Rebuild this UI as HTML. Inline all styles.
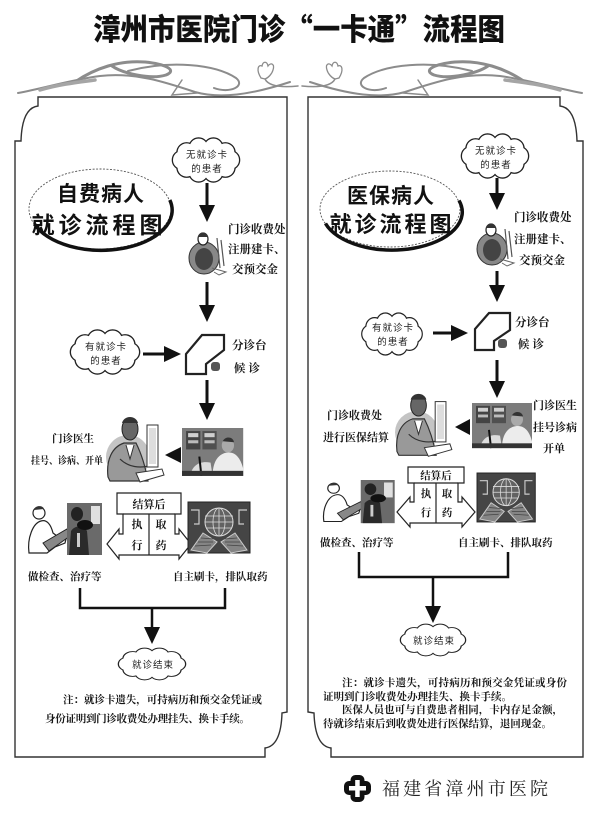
<!DOCTYPE html>
<html><head><meta charset="utf-8">
<style>
html,body{margin:0;padding:0;background:#fff;}
body{width:600px;height:813px;overflow:hidden;}
svg{display:block;}
.t{font-family:"Liberation Serif","Noto Serif CJK SC","Noto Sans CJK SC",serif;font-weight:bold;fill:#151515;}
.c{font-family:"Liberation Sans","Noto Sans CJK SC",sans-serif;font-size:9.5px;fill:#222;letter-spacing:1px;}
.h{font-family:"Noto Sans CJK SC","Liberation Sans",sans-serif;font-weight:700;fill:#111;}
</style></head>
<body>
<svg width="600" height="813" viewBox="0 0 600 813" xmlns="http://www.w3.org/2000/svg">
<defs>
 <g id="cloud">
  <g fill="none" stroke="#222" stroke-width="2.6">
   <circle cx="24" cy="0" r="9"/><circle cx="19.4" cy="7.6" r="9"/><circle cx="7.4" cy="12.4" r="9"/>
   <circle cx="-7.4" cy="12.4" r="9"/><circle cx="-19.4" cy="7.6" r="9"/><circle cx="-24" cy="0" r="9"/>
   <circle cx="-19.4" cy="-7.6" r="9"/><circle cx="-7.4" cy="-12.4" r="9"/><circle cx="7.4" cy="-12.4" r="9"/>
   <circle cx="19.4" cy="-7.6" r="9"/>
  </g>
  <g fill="#fff" stroke="none">
   <circle cx="24" cy="0" r="9"/><circle cx="19.4" cy="7.6" r="9"/><circle cx="7.4" cy="12.4" r="9"/>
   <circle cx="-7.4" cy="12.4" r="9"/><circle cx="-19.4" cy="7.6" r="9"/><circle cx="-24" cy="0" r="9"/>
   <circle cx="-19.4" cy="-7.6" r="9"/><circle cx="-7.4" cy="-12.4" r="9"/><circle cx="7.4" cy="-12.4" r="9"/>
   <circle cx="19.4" cy="-7.6" r="9"/>
   <ellipse cx="0" cy="0" rx="25" ry="14"/>
  </g>
 </g>
 <g id="cash">
  <ellipse cx="18" cy="30" rx="15" ry="16" fill="#888" stroke="#333" stroke-width="1"/>
  <ellipse cx="18" cy="31" rx="9" ry="11" fill="#444"/>
  <ellipse cx="17" cy="11" rx="5" ry="6" fill="#fff" stroke="#222" stroke-width="1.2"/>
  <path d="M12,9 C13,3 21,3 22,9" fill="#333"/>
  <path d="M31,10 L34,40 M35,12 L38,38" stroke="#555" stroke-width="1.2" fill="none"/>
  <path d="M26,40 L40,44 L33,47 L28,44" stroke="#666" fill="none"/>
 </g>
 <g id="doc">
  <ellipse cx="22" cy="42" rx="22" ry="22" fill="#c4c4c4"/>
  <path d="M2,62 C0,45 6,32 18,28 L30,28 C36,40 40,55 42,66 L4,66 Z" fill="#999" stroke="#333" stroke-width="1.2"/>
  <path d="M20,30 L24,44 L28,30" fill="#fff" stroke="#333"/>
  <ellipse cx="24" cy="14" rx="8" ry="11" fill="#666" stroke="#222"/>
  <path d="M16,8 C18,0 30,0 32,8" fill="#333"/>
  <path d="M14,44 C22,52 34,54 46,50" stroke="#333" stroke-width="1.2" fill="none"/>
  <rect x="41" y="10" width="11" height="42" fill="#fff" stroke="#333"/>
  <rect x="43" y="13" width="7" height="36" fill="#ddd"/>
  <path d="M30,58 L56,54 L58,60 L34,67 Z" fill="#fff" stroke="#333"/>
 </g>
 <g id="photo">
  <rect width="60" height="47" fill="#7c7c7c"/>
  <rect x="4" y="3" width="14" height="18" fill="#444"/><rect x="20" y="3" width="14" height="18" fill="#505050"/>
  <rect x="6" y="5" width="10" height="4" fill="#d0d0d0"/><rect x="6" y="12" width="10" height="3" fill="#bbb"/>
  <rect x="22" y="5" width="10" height="4" fill="#d0d0d0"/><rect x="22" y="12" width="10" height="3" fill="#bbb"/>
  <path d="M30,47 C30,30 38,24 46,24 C54,24 58,32 60,40 L60,47 Z" fill="#ececec"/>
  <ellipse cx="45" cy="17" rx="6" ry="7" fill="#aaa"/>
  <path d="M40,13 C42,8 50,8 51,14" fill="#333"/>
  <path d="M8,47 C10,36 18,32 28,34 L30,47 Z" fill="#ddd"/>
  <path d="M17,28 L19,47" stroke="#111" stroke-width="2"/>
  <rect x="0" y="42" width="60" height="5" fill="#333"/>
 </g>
 <g id="exam">
  <circle cx="14" cy="10" r="6" fill="#fff" stroke="#222" stroke-width="1.2"/>
  <path d="M9,7 C10,2 18,2 19,6" fill="#333"/>
  <path d="M4,50 C2,35 8,20 16,18 C22,16 26,22 28,30 L36,36 L42,32 L40,40 L30,44 L22,50 Z" fill="#fff" stroke="#222" stroke-width="1.2"/>
  <path d="M18,40 L42,26 L45,33 L24,48 Z" fill="#888" stroke="#222"/>
  <rect x="42" y="0" width="35" height="52" fill="#6a6a6a"/>
  <rect x="66" y="3" width="9" height="18" fill="#e0e0e0"/>
  <path d="M44,52 L46,28 C50,22 58,22 62,28 L64,52 Z" fill="#2a2a2a"/>
  <ellipse cx="52" cy="11" rx="6" ry="7" fill="#222"/>
  <ellipse cx="60" cy="22" rx="8" ry="5" fill="#111"/>
  <rect x="52" y="30" width="3" height="14" fill="#ccc"/>
 </g>
 <g id="globe">
  <rect width="62" height="51" fill="#454545" stroke="#222"/>
  <circle cx="31" cy="20" r="14" fill="#626262" stroke="#ddd" stroke-width="1"/>
  <ellipse cx="31" cy="20" rx="6" ry="14" fill="none" stroke="#ddd" stroke-width="0.8"/>
  <path d="M17,14 H45 M17,20 H45 M18,26 H44 M31,6 V34" stroke="#ddd" stroke-width="0.8"/>
  <path d="M3,8 H11 V22 H6 M59,8 H51 V22 H56" fill="none" stroke="#ccc" stroke-width="1.2"/>
  <path d="M3,48 L15,31 L29,40 L19,51 Z" fill="#858585" stroke="#ccc"/>
  <path d="M59,48 L47,31 L33,40 L43,51 Z" fill="#858585" stroke="#ccc"/>
  <path d="M7,44 L23,43 M10,40 L25,40 M13,36 L26,37 M55,44 L39,43 M52,40 L37,40 M49,36 L36,37" stroke="#444" stroke-width="0.8"/>
 </g>
 <g id="orn" fill="none" stroke="#8c8c8c" stroke-linecap="round">
  <path d="M18,93 C45,88 70,80 100,76 C135,72 165,82 195,92 C220,99 250,95 290,82" stroke-width="2"/>
  <path d="M75,82 C95,68 120,60 145,62 C165,64 178,70 166,75 C150,80 122,73 112,66" stroke-width="3"/>
  <path d="M128,71 C170,60 215,64 236,78 C246,86 230,94 214,88" stroke-width="2"/>
  <path d="M182,80 L172,95 L197,93" stroke-width="1.5"/>
  <path d="M40,90 C60,84 80,82 95,80" stroke-width="3.5" stroke="#a5a5a5"/>
  <path d="M261,78 C256,70 258,64 262,66 C263,61 267,61 268,66 C271,62 275,64 273,70 C272,74 268,78 265,79 Z" stroke-width="1.3"/>
  <path d="M265,79 C268,85 278,88 298,86" stroke-width="1.5"/>
 </g>
</defs>

<!-- Title -->
<text x="299" y="40" text-anchor="middle" textLength="412" lengthAdjust="spacingAndGlyphs" style="font-family:'Noto Sans CJK SC','WenQuanYi Zen Hei',sans-serif;font-weight:900;font-size:30px;fill:#111;">漳州市医院门诊“一卡通”流程图</text>

<!-- Ornament -->
<use href="#orn"/>
<g transform="translate(600,0) scale(-1,1)"><use href="#orn"/></g>

<!-- Panels -->
<path d="M38,97 L287,97 L287,712 L282,713 Q281,746 265,748 L265,757 L15,757 L15,141 L21,141 Q22,108 38,106 Z" fill="none" stroke="#333" stroke-width="1.4"/>
<path d="M560,97 L308,97 L308,712 L314,713 Q315,746 331,748 L331,757 L583,757 L583,141 L577,141 Q576,108 560,106 Z" fill="none" stroke="#333" stroke-width="1.4"/>

<!-- ============ LEFT PANEL ============ -->
<ellipse cx="100" cy="209" rx="71" ry="40" fill="none" stroke="#555" stroke-width="0.9" stroke-dasharray="2 1.5"/>
<path d="M34.5,224 A71,40 0 0 0 169.8,200" fill="none" stroke="#111" stroke-width="3.5"/>
<text class="h" x="101" y="201" text-anchor="middle" font-size="21" letter-spacing="1">自费病人</text>
<text class="h" x="99" y="233" text-anchor="middle" font-size="23" letter-spacing="4">就诊流程图</text>

<use href="#cloud" transform="translate(206,160)"/>
<text class="c" x="207" y="158" text-anchor="middle">无就诊卡</text>
<text class="c" x="207" y="172" text-anchor="middle">的患者</text>

<g stroke="#111" stroke-width="3">
 <line x1="207" y1="183" x2="207" y2="208"/>
 <line x1="207" y1="282" x2="207" y2="308"/>
 <line x1="143" y1="354" x2="166" y2="354"/>
 <line x1="207" y1="380" x2="207" y2="406"/>
 <polyline points="80,588 80,608 225,608 225,588" fill="none" stroke-width="2.5"/>
 <line x1="152" y1="608" x2="152" y2="630" stroke-width="2.5"/>
</g>
<g fill="#111">
 <polygon points="199,205 215,205 207,222"/>
 <polygon points="199,305 215,305 207,322"/>
 <polygon points="164,346 164,362 181,354"/>
 <polygon points="199,403 215,403 207,420"/>
 <polygon points="181,447 181,463 165,455"/>
 <polygon points="144,627 160,627 152,644"/>
</g>

<use href="#cash" transform="translate(186,228)"/>
<text class="t" x="228" y="233" font-size="11.5">门诊收费处</text>
<text class="t" x="228" y="253" font-size="11.5">注册建卡、</text>
<text class="t" x="232" y="273" font-size="11.5">交预交金</text>

<polygon points="202,335 224,335 224,350 206,364 206,374 186,374 186,354" fill="#fff" stroke="#222" stroke-width="2.2"/>
<rect x="211" y="362" width="9" height="9" rx="3" fill="#555"/>
<text class="t" x="232" y="349" font-size="11.5">分诊台</text>
<text class="t" x="234" y="372" font-size="11.5" letter-spacing="3">候诊</text>

<use href="#cloud" transform="translate(105,352) scale(1.03,1)"/>
<text class="c" x="106" y="350" text-anchor="middle">有就诊卡</text>
<text class="c" x="106" y="364" text-anchor="middle">的患者</text>

<use href="#photo" transform="translate(182,428) scale(1.02,1.02)"/>
<use href="#doc" transform="translate(106,415)"/>
<text class="t" x="52" y="442" font-size="10.5">门诊医生</text>
<text class="t" x="31" y="464" font-size="10" textLength="72" lengthAdjust="spacingAndGlyphs">挂号、诊病、开单</text>

<path d="M117,493 H181 V514 H175 V534 H179 V529 L191,544 L179,559 V555 H119 V559 L107,544 L119,529 V534 H123 V514 H117 Z" fill="#fff" stroke="#222" stroke-width="1.2"/>
<path d="M123,514 H175 M149,514 V555" stroke="#222" stroke-width="1.2" fill="none"/>
<text class="t" x="149" y="508" text-anchor="middle" font-size="11">结算后</text>
<text class="t" x="137" y="528" text-anchor="middle" font-size="11">执</text>
<text class="t" x="137" y="549" text-anchor="middle" font-size="11">行</text>
<text class="t" x="161" y="528" text-anchor="middle" font-size="11">取</text>
<text class="t" x="161" y="549" text-anchor="middle" font-size="11">药</text>

<use href="#exam" transform="translate(25,503)"/>
<use href="#globe" transform="translate(188,502)"/>
<text class="t" x="28" y="580" font-size="10.5">做检查、治疗等</text>
<text class="t" x="173" y="580" font-size="10.5">自主刷卡，排队取药</text>

<use href="#cloud" transform="translate(152,664) scale(1,0.72)"/>
<text class="c" x="153" y="668" text-anchor="middle" letter-spacing="2">就诊结束</text>

<text class="t" x="63" y="703" font-size="10.5" textLength="199" lengthAdjust="spacing">注：就诊卡遗失，可持病历和预交金凭证或</text>
<text class="t" x="45" y="722" font-size="10.5" textLength="205" lengthAdjust="spacing">身份证明到门诊收费处办理挂失、换卡手续。</text>

<!-- ============ RIGHT PANEL ============ -->
<ellipse cx="390" cy="209" rx="70" ry="38" fill="none" stroke="#555" stroke-width="0.9" stroke-dasharray="2 1.5"/>
<path d="M325.5,223.5 A70,38 0 0 0 459,200.5" fill="none" stroke="#111" stroke-width="3.5"/>
<text class="h" x="391" y="203" text-anchor="middle" font-size="21" letter-spacing="1">医保病人</text>
<text class="h" x="392" y="232" text-anchor="middle" font-size="22" letter-spacing="3">就诊流程图</text>

<use href="#cloud" transform="translate(495,156)"/>
<text class="c" x="496" y="154" text-anchor="middle">无就诊卡</text>
<text class="c" x="496" y="168" text-anchor="middle">的患者</text>

<g stroke="#111" stroke-width="3">
 <line x1="497" y1="178" x2="497" y2="196"/>
 <line x1="497" y1="271" x2="497" y2="288"/>
 <line x1="433" y1="333" x2="453" y2="333"/>
 <line x1="497" y1="360" x2="497" y2="384"/>
 <polyline points="359,552 359,577 508,577 508,552" fill="none" stroke-width="2.5"/>
 <line x1="433" y1="577" x2="433" y2="609" stroke-width="2.5"/>
</g>
<g fill="#111">
 <polygon points="489,193 505,193 497,210"/>
 <polygon points="489,285 505,285 497,302"/>
 <polygon points="451,325 451,341 468,333"/>
 <polygon points="489,381 505,381 497,398"/>
 <polygon points="470,419 470,435 455,427"/>
 <polygon points="425,606 441,606 433,623"/>
</g>

<use href="#cash" transform="translate(474,219)"/>
<text class="t" x="514" y="221" font-size="11.5">门诊收费处</text>
<text class="t" x="514" y="243" font-size="11.5">注册建卡、</text>
<text class="t" x="519" y="264" font-size="11.5">交预交金</text>

<polygon points="489,313 510,313 510,330 494,341 494,350 475,350 475,329" fill="#fff" stroke="#222" stroke-width="2.2"/>
<rect x="498" y="339" width="9" height="9" rx="3" fill="#555"/>
<text class="t" x="515" y="326" font-size="11.5">分诊台</text>
<text class="t" x="518" y="348" font-size="11.5" letter-spacing="3">候诊</text>

<use href="#cloud" transform="translate(392,334) scale(0.9,0.95)"/>
<text class="c" x="393" y="331" text-anchor="middle">有就诊卡</text>
<text class="c" x="393" y="345" text-anchor="middle">的患者</text>

<use href="#photo" transform="translate(472,403) scale(1,0.96)"/>
<use href="#doc" transform="translate(395,392) scale(0.98,0.96)"/>
<text class="t" x="327" y="419" font-size="11">门诊收费处</text>
<text class="t" x="323" y="441" font-size="11">进行医保结算</text>
<text class="t" x="533" y="409" font-size="11">门诊医生</text>
<text class="t" x="533" y="431" font-size="11">挂号诊病</text>
<text class="t" x="543" y="452" font-size="11">开单</text>

<path d="M408,467 H464 V483 H458 V502 H462 V497 L475,512 L462,527 V523 H410 V527 L397,512 L410,497 V502 H414 V483 H408 Z" fill="#fff" stroke="#222" stroke-width="1.2"/>
<path d="M414,483 H458 M436,483 V523" stroke="#222" stroke-width="1.2" fill="none"/>
<text class="t" x="436" y="479" text-anchor="middle" font-size="10.5">结算后</text>
<text class="t" x="426" y="497" text-anchor="middle" font-size="10.5">执</text>
<text class="t" x="426" y="516" text-anchor="middle" font-size="10.5">行</text>
<text class="t" x="447" y="497" text-anchor="middle" font-size="10.5">取</text>
<text class="t" x="447" y="516" text-anchor="middle" font-size="10.5">药</text>

<use href="#exam" transform="translate(320,480) scale(0.97,0.83)"/>
<use href="#globe" transform="translate(477,473) scale(0.94,0.96)"/>
<text class="t" x="320" y="546" font-size="10.5">做检查、治疗等</text>
<text class="t" x="458" y="546" font-size="10.5">自主刷卡、排队取药</text>

<use href="#cloud" transform="translate(433,640) scale(0.97,0.72)"/>
<text class="c" x="434" y="644" text-anchor="middle" letter-spacing="2">就诊结束</text>

<text class="t" x="342" y="686" font-size="10.5" textLength="225" lengthAdjust="spacing">注：就诊卡遗失，可持病历和预交金凭证或身份</text>
<text class="t" x="323" y="700" font-size="10.5">证明到门诊收费处办理挂失、换卡手续。</text>
<text class="t" x="342" y="713" font-size="10.5" textLength="221" lengthAdjust="spacing">医保人员也可与自费患者相同，卡内存足金额，</text>
<text class="t" x="323" y="727" font-size="10.5" textLength="229" lengthAdjust="spacing">待就诊结束后到收费处进行医保结算，退回现金。</text>

<!-- Footer -->
<rect x="344" y="781" width="27" height="14" rx="5" fill="#111"/>
<rect x="350.5" y="775" width="14" height="27" rx="5" fill="#111"/>
<rect x="349" y="786" width="17" height="4.5" fill="#fff"/>
<rect x="355.2" y="780" width="4.5" height="17" fill="#fff"/>
<text x="382" y="795" font-size="18" textLength="166" lengthAdjust="spacing" style="font-family:'Noto Serif CJK SC','Noto Sans CJK SC',serif;fill:#222;">福建省漳州市医院</text>
</svg>
</body></html>
